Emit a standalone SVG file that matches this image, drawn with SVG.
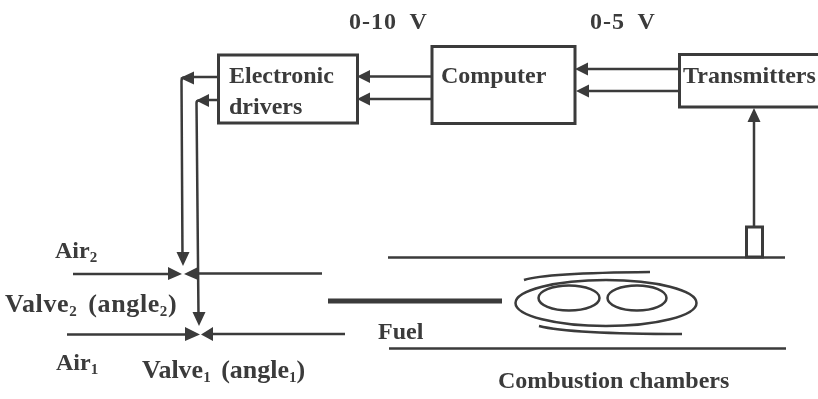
<svg xmlns="http://www.w3.org/2000/svg" width="818" height="399" viewBox="0 0 818 399">
<defs>
<filter id="soft" x="-5%" y="-5%" width="110%" height="110%"><feGaussianBlur stdDeviation="0.55"/></filter>
</defs>
<style>
.t{font-family:"Liberation Serif","Times New Roman",serif;font-weight:bold;font-size:24px;fill:#3a3a3a}
.w{font-size:26px;word-spacing:4px}
.s{font-size:15px}
.b{fill:#fff;stroke:#3a3a3a;stroke-width:3}
.l{fill:none;stroke:#3a3a3a;stroke-width:2.500}
.v{fill:#3a3a3a}
</style>
<rect width="818" height="399" fill="#fff"/>
<g filter="url(#soft)">
<g id="connectors">
<path class="l" d="M432,76.500 H368 M432,99 H368 M679,69 H586 M679,91 H586 M754,227 V118 M218,77 H192 M218,100 H207"/>
<path class="v" d="M357,76.500 L370,70 V83 Z M357,99 L370,92.500 V105.500 Z M575,69 L588,62.500 V75.500 Z M576,91 L589,84.500 V97.500 Z M754,108 L747.500,122 H760.500 Z M180,78 L194,71.500 V84.500 Z M196,100.500 L209,94 V107 Z M183,266 L176.500,252 H189.500 Z M199,326 L192.500,312 H205.500 Z"/>
<path class="l" d="M192,77.500 H184 Q181.500,77.500 181.500,81 L182.500,258"/>
<path class="l" d="M207,100.500 H199 Q196.500,100.500 196.500,103 L198.500,316"/>
</g>
<g id="electronic-drivers">
<rect class="b" x="218.500" y="55" width="139" height="68"/>
<text class="t" x="229" y="83">Electronic</text>
<text class="t" x="229" y="114">drivers</text>
</g>
<g id="computer">
<rect class="b" x="432" y="46.500" width="143" height="77"/>
<text class="t" x="441" y="83">Computer</text>
</g>
<g id="transmitters">
<path class="b" d="M818,54.500 H679.500 V107 H818"/>
<text class="t" x="683" y="83">Transmitters</text>
</g>
<g id="sensor">
<rect class="b" x="746.500" y="227" width="16" height="30"/>
</g>
<g id="valve-2">
<path class="l" d="M73,274 H172 M194,273.500 H322"/>
<path class="v" d="M168,267 L182,274 L168,280 Z M198,267 L184,274 L198,280 Z"/>
</g>
<g id="valve-1">
<path class="l" d="M67,334.500 H190 M210,334 H345"/>
<path class="v" d="M185,327 L200,334.500 L185,341 Z M213,327 L201,334.500 L213,341 Z"/>
</g>
<g id="combustion-chambers">
<path class="l" d="M388,257.500 H785"/>
<path class="l" d="M389,348.500 H786"/>
<path d="M328,301 H502" fill="none" stroke="#3a3a3a" stroke-width="5"/>
<ellipse class="l" cx="606" cy="303" rx="90.500" ry="23" stroke-width="3"/>
<ellipse class="l" cx="569" cy="298" rx="30.500" ry="12.500" stroke-width="3"/>
<ellipse class="l" cx="637" cy="298" rx="29.500" ry="12.500" stroke-width="3"/>
<path class="l" d="M524,280 Q545,273 650,272" stroke-width="3"/>
<path class="l" d="M539,326 Q570,334 682,334" stroke-width="3"/>
</g>
<g id="labels">
<text class="t" x="349" y="29" word-spacing="6" letter-spacing="1">0-10 V</text>
<text class="t" x="590" y="29" word-spacing="6" letter-spacing="1">0-5 V</text>
<text class="t" x="55" y="258">Air<tspan class="s" dy="4">2</tspan></text>
<text class="t w" x="5" y="312" letter-spacing="0.600">Valve<tspan class="s" dy="4">2</tspan><tspan dy="-4"> (angle</tspan><tspan class="s" dy="4">2</tspan><tspan dy="-4">)</tspan></text>
<text class="t" x="56" y="370">Air<tspan class="s" dy="4">1</tspan></text>
<text class="t w" x="142" y="378">Valve<tspan class="s" dy="4">1</tspan><tspan dy="-4"> (angle</tspan><tspan class="s" dy="4">1</tspan><tspan dy="-4">)</tspan></text>
<text class="t" x="378" y="339">Fuel</text>
<text class="t" x="498" y="388">Combustion chambers</text>
</g>
</g>
</svg>
